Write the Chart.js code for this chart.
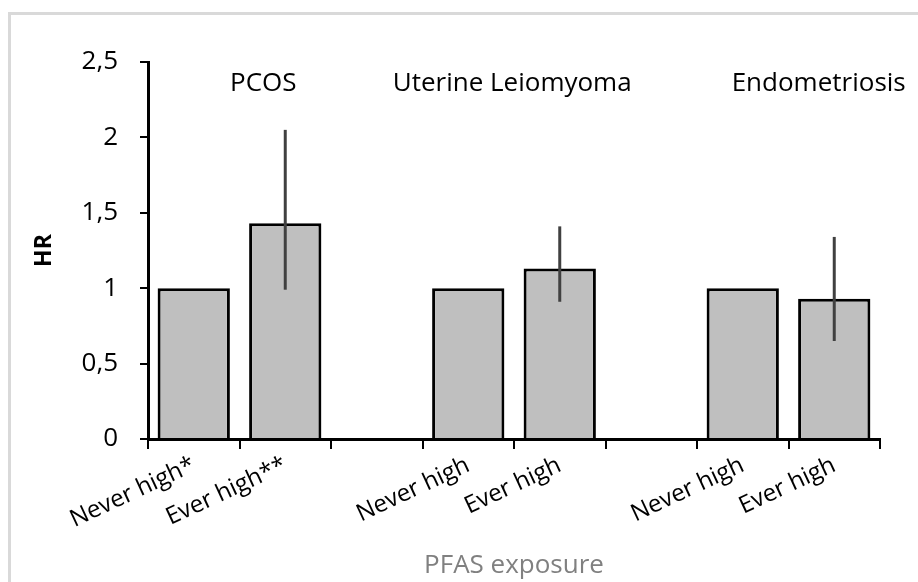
<!DOCTYPE html>
<html>
<head>
<meta charset="utf-8">
<script src="https://cdn.jsdelivr.net/npm/chart.js@4"></script>
<style>
  html, body { margin: 0; padding: 0; background: #fff; }
  #frame {
    position: absolute; left: 8px; top: 12px; width: 1000px; height: 1000px;
    border-left: 3px solid #d9d9d9; border-top: 3px solid #d9d9d9;
  }
  #wrap { position: absolute; left: 0; top: 0; width: 918px; height: 582px; }
</style>
</head>
<body>
<div id="frame"></div>
<div id="wrap"><canvas id="hrChart"></canvas></div>
<script>
// categories (empty ones make the gaps between groups)
const categories = ["Never high*", "Ever high**", "", "Never high", "Ever high", "", "Never high", "Ever high"];
// hazard ratios and their confidence intervals
const hrValues = [1, 1.43, null, 1, 1.13, null, 1, 0.93];
const ciLow = [null, 0.99, null, null, 0.91, null, null, 0.65];
const ciHigh = [null, 2.05, null, null, 1.41, null, null, 1.34];
// group names and where they sit (category index)
const groupNames = ["PCOS", "Uterine Leiomyoma", "Endometriosis"];
const groupPos = [0.76, 3.48, 6.83];
const yTickLabels = ["0", "0,5", "1", "1,5", "2", "2,5"];

// error bars, no caps
const errorBars = {
  id: "errorBars",
  afterDatasetsDraw(chart) {
    const ctx = chart.ctx;
    const x = chart.scales.x, y = chart.scales.y;
    ctx.save();
    ctx.strokeStyle = "#404040";
    ctx.lineWidth = 3;
    for (let i = 0; i < hrValues.length; i++) {
      if (ciLow[i] == null) continue;
      const px = x.getPixelForValue(i);
      ctx.beginPath();
      ctx.moveTo(px, y.getPixelForValue(ciHigh[i]));
      ctx.lineTo(px, y.getPixelForValue(ciLow[i]));
      ctx.stroke();
    }
    ctx.restore();
  },
};

// group titles above the bars
const groupLabels = {
  id: "groupLabels",
  afterDraw(chart) {
    const ctx = chart.ctx;
    const x = chart.scales.x, y = chart.scales.y;
    ctx.save();
    ctx.font = "26px 'Open Sans'";
    ctx.fillStyle = "#000";
    ctx.textAlign = "center";
    ctx.textBaseline = "middle";
    groupNames.forEach((name, i) => {
      ctx.fillText(name, x.getPixelForValue(groupPos[i]), y.getPixelForValue(2.36));
    });
    ctx.restore();
  },
};

new Chart(document.getElementById("hrChart"), {
  type: "bar",
  data: {
    labels: categories,
    datasets: [
      {
        data: hrValues,
        backgroundColor: "#bfbfbf",
        borderColor: "#000",
        borderWidth: 3,
        barPercentage: 0.79,
        categoryPercentage: 1,
      },
    ],
  },
  options: {
    responsive: true,
    maintainAspectRatio: false,
    animation: false,
    layout: { padding: { top: 62, right: 38, left: 0, bottom: 0 } },
    plugins: {
      legend: { display: false },
      tooltip: { enabled: false },
    },
    scales: {
      x: {
        afterFit: (s) => { s.height = 143; },
        border: { display: true, color: "#000", width: 3 },
        grid: { offset: true, drawOnChartArea: false, tickLength: 10, color: "#000", lineWidth: 2 },
        ticks: {
          autoSkip: false,
          minRotation: 25,
          maxRotation: 25,
          padding: 2,
          color: "#000",
          font: { family: "'Open Sans'", size: 24 },
        },
        title: {
          display: true,
          text: "PFAS exposure",
          color: "#808080",
          font: { family: "'Open Sans'", size: 26 },
          padding: { top: 0, bottom: 1 },
        },
      },
      y: {
        min: 0,
        max: 2.5,
        afterFit: (s) => { s.width = 148; },
        border: { display: true, color: "#000", width: 3 },
        grid: { drawOnChartArea: false, tickLength: 8, color: "#000", lineWidth: 2 },
        ticks: {
          stepSize: 0.5,
          padding: 22,
          color: "#000",
          font: { family: "'Open Sans'", size: 26 },
          callback: (v, i) => yTickLabels[i],
        },
        title: {
          display: true,
          text: "HR",
          color: "#000",
          font: { family: "'Open Sans'", size: 23, weight: "bold" },
          padding: { top: 31, bottom: 0 },
        },
      },
    },
  },
  plugins: [errorBars, groupLabels],
});
</script>
</body>
</html>
